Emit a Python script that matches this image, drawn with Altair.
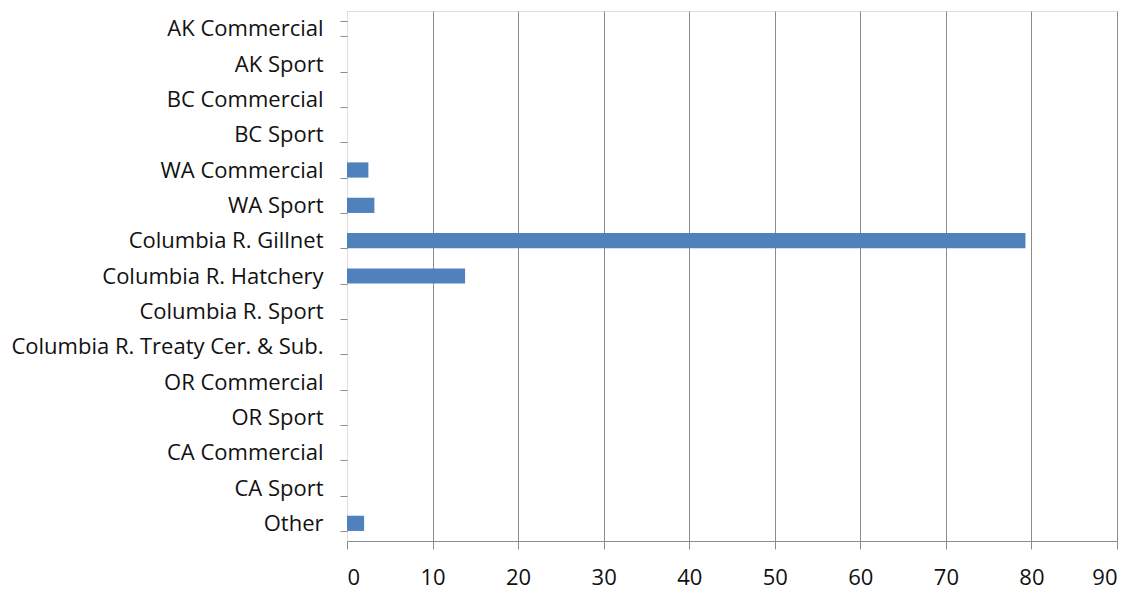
import altair as alt
import pandas as pd

categories = [
    "AK Commercial", "AK Sport", "BC Commercial", "BC Sport",
    "WA Commercial", "WA Sport", "Columbia R. Gillnet", "Columbia R. Hatchery",
    "Columbia R. Sport", "Columbia R. Treaty Cer. & Sub.", "OR Commercial",
    "OR Sport", "CA Commercial", "CA Sport", "Other",
]
values = [0, 0, 0, 0, 2.5, 3.2, 79.3, 13.8, 0, 0, 0, 0, 0, 0, 2.0]
x_ticks = [0, 10, 20, 30, 40, 50, 60, 70, 80, 90]

df = pd.DataFrame({"category": categories, "value": values})

FONT = "Open Sans"

chart = alt.Chart(df).mark_bar(
    color="#4F81BD"
).encode(
    y=alt.Y(
        "category:N", sort=categories, title=None,
        scale=alt.Scale(paddingInner=0.57, paddingOuter=0.285),
        axis=alt.Axis(
            domain=False, tickBand="extent", ticks=True, tickSize=7,
            tickColor="#8c8c8c", tickWidth=1, labelPadding=17, labelLimit=0,
            labelFont=FONT, labelFontSize=22, labelColor="#111111",
            grid=False,
        ),
    ),
    x=alt.X(
        "value:Q", title=None,
        scale=alt.Scale(domain=[0, 90], nice=False),
        axis=alt.Axis(
            values=x_ticks, format="d", domain=True, domainColor="#8c8c8c",
            domainWidth=1, ticks=True, tickSize=8, tickColor="#8c8c8c",
            labelPadding=18, labelFont=FONT, labelFontSize=22,
            labelColor="#111111",
            grid=True,
            gridColor={"condition": {"test": "datum.value === 0", "value": "transparent"}, "value": "#8c8c8c"},
            gridWidth=1,
        ),
    ),
).properties(
    width=770, height=530,
    padding={"left": 2, "top": -8, "right": 10, "bottom": 2},
).configure_view(stroke=None).configure(background="white")

chart.save("out.html", embed_options={"renderer": "svg", "actions": False})
